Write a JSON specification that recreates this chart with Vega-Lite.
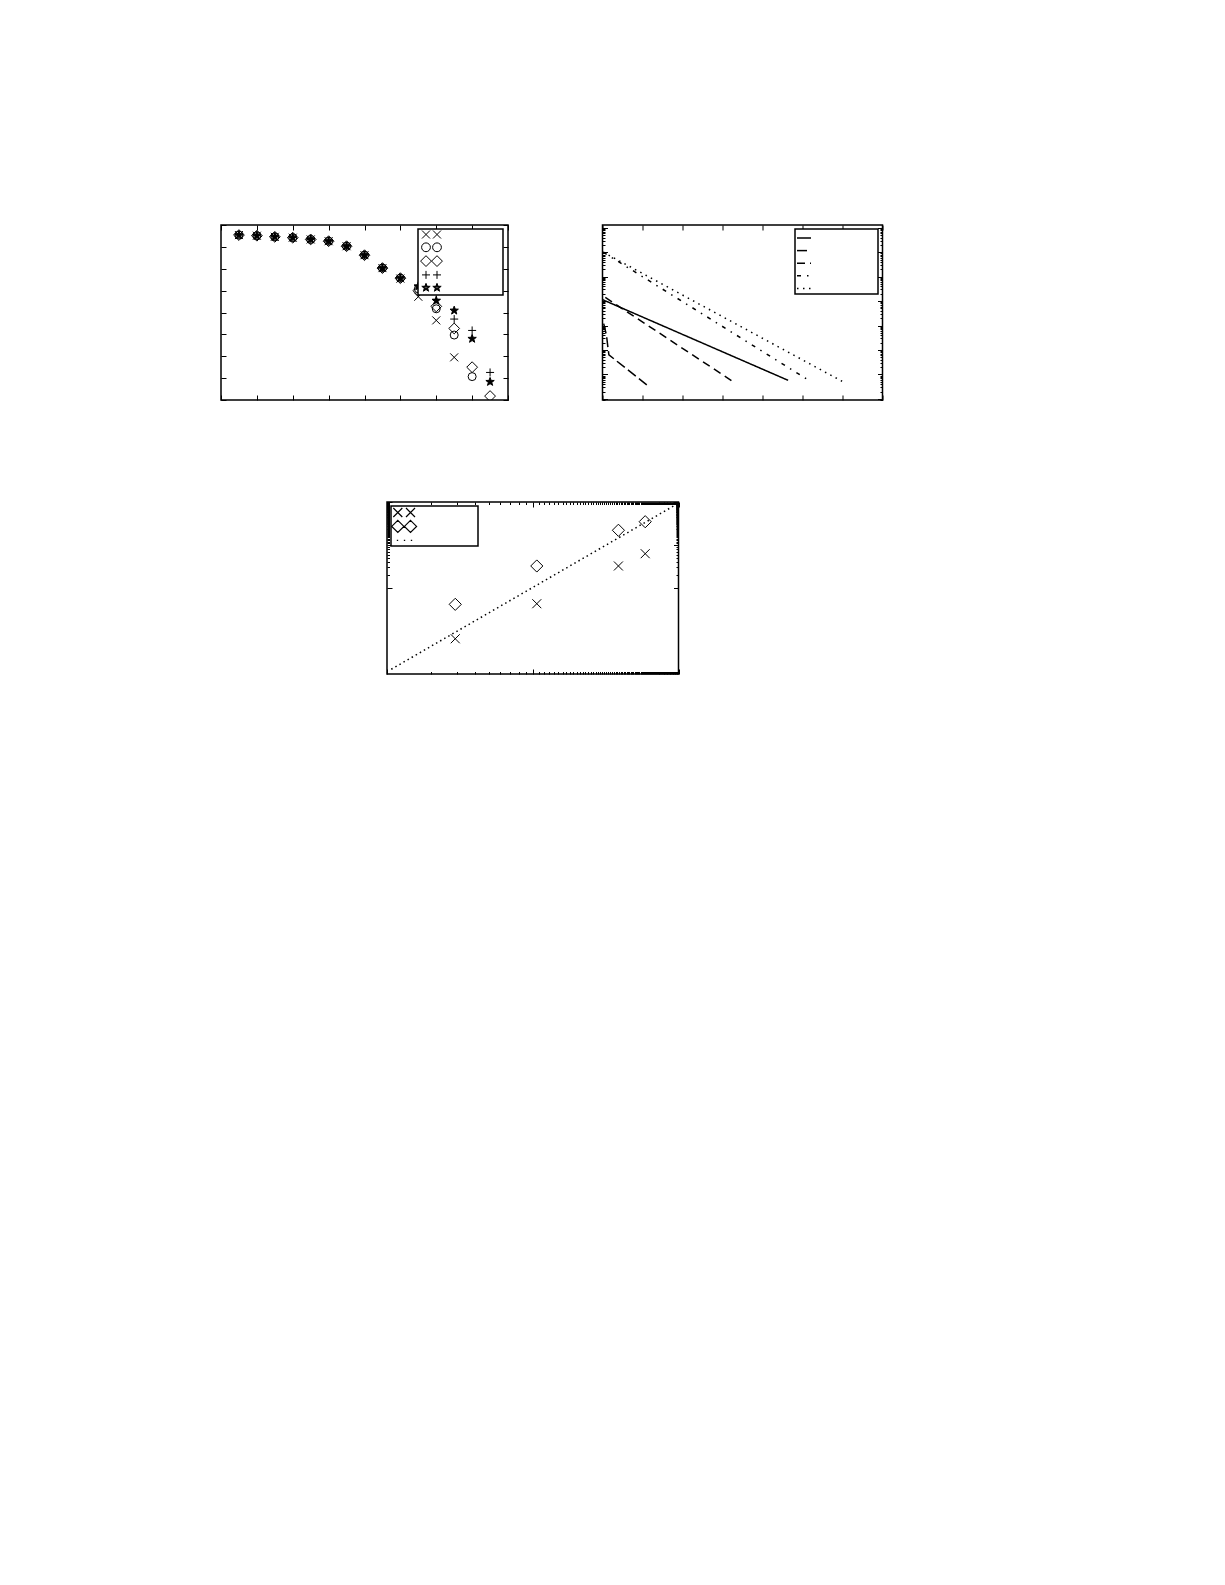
{
  "$schema": "https://vega.github.io/schema/vega-lite/v6.json",
  "background": "white",
  "padding": {"left": 219, "top": 223, "right": 5, "bottom": 5},
  "config": {
    "view": {"stroke": "black", "strokeWidth": 1.5},
    "axis": {"domain": false, "labels": false, "grid": false, "tickColor": "black", "tickWidth": 1},
    "legend": {"strokeColor": "black", "strokeWidth": 1.5, "fillColor": "white", "labelFontSize": 8, "labelColor": "black"}
  },
  "spacing": 97,
  "vconcat": [
    {
      "spacing": 88.5,
      "hconcat": [
        {
          "width": 287,
          "height": 175,
          "data": {"values": [
            {"s":"a","x":0.5,"y":7.54},{"s":"a","x":1,"y":7.51},{"s":"a","x":1.5,"y":7.46},{"s":"a","x":2,"y":7.42},{"s":"a","x":2.5,"y":7.34},{"s":"a","x":3,"y":7.26},{"s":"a","x":3.5,"y":7.03},{"s":"a","x":4,"y":6.62},{"s":"a","x":4.5,"y":6.03},{"s":"a","x":5,"y":5.55},{"s":"a","x":5.5,"y":4.72},{"s":"a","x":6,"y":3.64},{"s":"a","x":6.5,"y":1.95},
            {"s":"b","x":0.5,"y":7.54},{"s":"b","x":1,"y":7.51},{"s":"b","x":1.5,"y":7.46},{"s":"b","x":2,"y":7.42},{"s":"b","x":2.5,"y":7.34},{"s":"b","x":3,"y":7.26},{"s":"b","x":3.5,"y":7.03},{"s":"b","x":4,"y":6.62},{"s":"b","x":4.5,"y":6.03},{"s":"b","x":5,"y":5.57},{"s":"b","x":5.5,"y":5.08},{"s":"b","x":6,"y":4.17},{"s":"b","x":6.5,"y":2.97},{"s":"b","x":7,"y":1.07},
            {"s":"c","x":0.5,"y":7.54},{"s":"c","x":1,"y":7.51},{"s":"c","x":1.5,"y":7.46},{"s":"c","x":2,"y":7.42},{"s":"c","x":2.5,"y":7.34},{"s":"c","x":3,"y":7.26},{"s":"c","x":3.5,"y":7.03},{"s":"c","x":4,"y":6.62},{"s":"c","x":4.5,"y":6.03},{"s":"c","x":5,"y":5.57},{"s":"c","x":5.5,"y":5.0},{"s":"c","x":6,"y":4.28},{"s":"c","x":6.5,"y":3.27},{"s":"c","x":7,"y":1.5},{"s":"c","x":7.5,"y":0.18},
            {"s":"d","x":0.5,"y":7.54},{"s":"d","x":1,"y":7.51},{"s":"d","x":1.5,"y":7.46},{"s":"d","x":2,"y":7.42},{"s":"d","x":2.5,"y":7.34},{"s":"d","x":3,"y":7.26},{"s":"d","x":3.5,"y":7.03},{"s":"d","x":4,"y":6.62},{"s":"d","x":4.5,"y":6.03},{"s":"d","x":5,"y":5.57},{"s":"d","x":5.5,"y":5.23},{"s":"d","x":6,"y":4.6},{"s":"d","x":6.5,"y":3.7},{"s":"d","x":7,"y":3.18},{"s":"d","x":7.5,"y":1.26},
            {"s":"e","x":0.5,"y":7.54},{"s":"e","x":1,"y":7.51},{"s":"e","x":1.5,"y":7.46},{"s":"e","x":2,"y":7.42},{"s":"e","x":2.5,"y":7.34},{"s":"e","x":3,"y":7.26},{"s":"e","x":3.5,"y":7.03},{"s":"e","x":4,"y":6.62},{"s":"e","x":4.5,"y":6.03},{"s":"e","x":5,"y":5.57},{"s":"e","x":5.5,"y":5.2},{"s":"e","x":6,"y":4.54},{"s":"e","x":6.5,"y":4.09},{"s":"e","x":7,"y":2.8},{"s":"e","x":7.5,"y":0.83}
          ]},
          "layer": [
            {
              "mark": {"type": "point", "filled": false, "stroke": "black", "strokeWidth": 1, "size": 64, "opacity": 1, "clip": true},
              "encoding": {
                "x": {"field": "x", "type": "quantitative", "title": null, "scale": {"domain": [0, 8], "nice": false}, "axis": {"orient": "bottom", "tickCount": 8, "tickSize": -5}},
                "y": {"field": "y", "type": "quantitative", "title": null, "scale": {"domain": [0, 8], "nice": false}, "axis": {"orient": "left", "tickCount": 8, "tickSize": -5}},
                "shape": {"field": "s", "type": "nominal", "legend": null, "scale": {"domain": ["a","b","c","d","e"], "range": [
                  "M-1,-1L1,1M-1,1L1,-1",
                  "circle",
                  "M0,-1.35L1.35,0L0,1.35L-1.35,0Z",
                  "M-1,0L1,0M0,-1L0,1",
                  "M0,-1.1L0.265,-0.364L1.046,-0.34L0.428,0.139L0.647,0.89L0,0.45L-0.647,0.89L-0.428,0.139L-1.046,-0.34L-0.265,-0.364Z"
                ]}},
                "fill": {"field": "s", "type": "nominal", "legend": null, "scale": {"domain": ["a","b","c","d","e"], "range": ["transparent","transparent","transparent","transparent","black"]}}
              }
            },
            {
              "mark": {"type": "point", "filled": false, "stroke": "black", "strokeWidth": 1, "size": 64, "opacity": 0},
              "encoding": {
                "x": {"field": "x", "type": "quantitative", "title": null, "axis": {"orient": "top", "tickCount": 8, "tickSize": -5}},
                "y": {"field": "y", "type": "quantitative", "title": null, "axis": {"orient": "right", "tickCount": 8, "tickSize": -5}},
                "shape": {"field": "s", "type": "nominal", "scale": {"domain": ["a","b","c","d","e"], "range": [
                  "M-0.375,-1L1.625,1M-0.375,1L1.625,-1M2.375,-1L4.375,1M2.375,1L4.375,-1",
                  "M1.725,0A1.1,1.1 0 1,1 -0.475,0A1.1,1.1 0 1,1 1.725,0ZM4.475,0A1.1,1.1 0 1,1 2.275,0A1.1,1.1 0 1,1 4.475,0Z",
                  "M0.625,-1.35L1.975,0L0.625,1.35L-0.725,0ZM3.375,-1.35L4.725,0L3.375,1.35L2.025,0Z",
                  "M-0.375,0L1.625,0M0.625,-1L0.625,1M2.375,0L4.375,0M3.375,-1L3.375,1",
                  "M0.625,-1.1L0.89,-0.364L1.671,-0.34L1.053,0.139L1.272,0.89L0.625,0.45L-0.022,0.89L0.197,0.139L-0.421,-0.34L0.36,-0.364ZM0.625,-0.77L0.811,-0.255L1.357,-0.238L0.925,0.097L1.078,0.623L0.625,0.315L0.172,0.623L0.325,0.097L-0.107,-0.238L0.439,-0.255ZM0.625,-0.44L0.731,-0.146L1.043,-0.136L0.796,0.056L0.884,0.356L0.625,0.18L0.366,0.356L0.454,0.056L0.207,-0.136L0.519,-0.146ZM0.525,0L0.725,0M3.375,-1.1L3.64,-0.364L4.421,-0.34L3.803,0.139L4.022,0.89L3.375,0.45L2.728,0.89L2.947,0.139L2.329,-0.34L3.11,-0.364ZM3.375,-0.77L3.561,-0.255L4.107,-0.238L3.675,0.097L3.828,0.623L3.375,0.315L2.922,0.623L3.075,0.097L2.643,-0.238L3.189,-0.255ZM3.375,-0.44L3.481,-0.146L3.793,-0.136L3.546,0.056L3.634,0.356L3.375,0.18L3.116,0.356L3.204,0.056L2.957,-0.136L3.269,-0.146ZM3.275,0L3.475,0"
                ]}, "legend": {"title": null, "orient": "none", "legendX": 197, "legendY": 4, "padding": 1, "rowPadding": -0.2, "labelOffset": 67.5, "symbolSize": 64, "symbolStrokeWidth": 1, "symbolStrokeColor": "black", "symbolFillColor": "transparent", "labelExpr": "'⠀'"}}
              }
            }
          ],
          "resolve": {"scale": {"shape": "independent", "fill": "independent"}, "axis": {"x": "independent", "y": "independent"}}
        },
        {
          "width": 280,
          "height": 175,
          "data": {"values": [
            {"s":"s1","x":0,"y":0.00115},{"s":"s1","x":4.64,"y":5.75e-7},
            {"s":"s2","x":0.03,"y":0.00012},{"s":"s2","x":0.1,"y":3.98e-5},{"s":"s2","x":0.13,"y":1.51e-5},{"s":"s2","x":0.16,"y":6.31e-6},{"s":"s2","x":1.15,"y":3.31e-7},
            {"s":"s3","x":0.07,"y":0.00141},{"s":"s3","x":3.28,"y":4.9e-7},
            {"s":"s4","x":0.02,"y":0.1},{"s":"s4","x":5.16,"y":5.75e-7},
            {"s":"s5","x":0.02,"y":0.1},{"s":"s5","x":5.99,"y":5.25e-7}
          ]},
          "layer": [
            {
              "mark": {"type": "line", "stroke": "black", "strokeWidth": 1.5, "clip": true},
              "encoding": {
                "x": {"field": "x", "type": "quantitative", "title": null, "scale": {"domain": [0, 7], "nice": false}, "axis": {"orient": "bottom", "tickCount": 7, "tickSize": -5}},
                "y": {"field": "y", "type": "quantitative", "title": null, "scale": {"type": "log", "domain": [9e-8, 1.3], "nice": false}, "axis": {"orient": "left", "tickCount": 100, "tickSize": {"condition": {"test": "abs(log(datum.value)/LN10 - round(log(datum.value)/LN10)) < 0.001", "value": -5}, "value": -2.5}}},
                "strokeDash": {"field": "s", "type": "nominal", "scale": {"domain": ["s1","s2","s3","s4","s5"], "range": [[1,0],[10,4],[8,5],[4,6,1.5,6],[1.5,4.5]]}, "legend": {"title": null, "orient": "none", "legendX": 574, "legendY": 4, "padding": 1, "rowPadding": 0.6, "labelOffset": 59, "symbolSize": 196, "symbolStrokeWidth": 1.5, "symbolStrokeColor": "black", "labelExpr": "'⠀'"}}
              }
            },
            {
              "mark": {"type": "point", "opacity": 0},
              "encoding": {
                "x": {"field": "x", "type": "quantitative", "title": null, "axis": {"orient": "top", "tickCount": 7, "tickSize": -5}},
                "y": {"field": "y", "type": "quantitative", "title": null, "axis": {"orient": "right", "tickCount": 100, "tickSize": {"condition": {"test": "abs(log(datum.value)/LN10 - round(log(datum.value)/LN10)) < 0.001", "value": -5}, "value": -2.5}}}
              }
            }
          ],
          "resolve": {"axis": {"x": "independent", "y": "independent"}}
        }
      ]
    },
    {
      "spacing": 154,
      "hconcat": [
        {
          "width": 10,
          "height": 172,
          "view": {"stroke": null},
          "data": {"values": [{"z": 1}]},
          "mark": {"type": "point", "opacity": 0},
          "encoding": {}
        },
        {
          "width": 291.5,
          "height": 172,
          "data": {"values": [
            {"s":"X","x":2.94,"y":0.00066},{"s":"X","x":10.66,"y":0.00431},{"s":"X","x":38.7,"y":0.0325},{"s":"X","x":59.1,"y":0.0628},
            {"s":"D","x":2.94,"y":0.00417},{"s":"D","x":10.66,"y":0.0325},{"s":"D","x":38.7,"y":0.22},{"s":"D","x":59.1,"y":0.348},
            {"s":"fit","x":1.07,"y":0.000129},{"s":"fit","x":92.5,"y":0.807}
          ]},
          "layer": [
            {
              "transform": [{"filter": "datum.s !== 'fit'"}],
              "mark": {"type": "point", "filled": false, "stroke": "black", "strokeWidth": 1, "size": 81, "opacity": 1, "clip": true},
              "encoding": {
                "x": {"field": "x", "type": "quantitative", "title": null, "scale": {"type": "log", "domain": [1, 100], "nice": false}, "axis": {"orient": "bottom", "tickCount": 100, "tickSize": {"condition": {"test": "abs(log(datum.value)/LN10 - round(log(datum.value)/LN10)) < 0.001", "value": -5}, "value": -2.5}}},
                "y": {"field": "y", "type": "quantitative", "title": null, "scale": {"type": "log", "domain": [0.0001, 1], "nice": false}, "axis": {"orient": "left", "tickCount": 100, "tickSize": {"condition": {"test": "abs(log(datum.value)/LN10 - round(log(datum.value)/LN10)) < 0.001", "value": -5}, "value": -2.5}}},
                "shape": {"field": "s", "type": "nominal", "legend": null, "scale": {"domain": ["X","D"], "range": ["M-1,-1L1,1M-1,1L1,-1", "M0,-1.35L1.35,0L0,1.35L-1.35,0Z"]}}
              }
            },
            {
              "transform": [{"filter": "datum.s === 'fit'"}],
              "mark": {"type": "line", "stroke": "black", "strokeWidth": 1.5, "strokeDash": [1.5, 3.2], "clip": true},
              "encoding": {
                "x": {"field": "x", "type": "quantitative", "title": null, "axis": null},
                "y": {"field": "y", "type": "quantitative", "title": null, "axis": null}
              }
            },
            {
              "mark": {"type": "point", "filled": false, "stroke": "black", "strokeWidth": 1, "size": 81, "opacity": 0},
              "encoding": {
                "x": {"field": "x", "type": "quantitative", "title": null, "axis": {"orient": "top", "tickCount": 100, "tickSize": {"condition": {"test": "abs(log(datum.value)/LN10 - round(log(datum.value)/LN10)) < 0.001", "value": -5}, "value": -2.5}}},
                "y": {"field": "y", "type": "quantitative", "title": null, "axis": {"orient": "right", "tickCount": 100, "tickSize": {"condition": {"test": "abs(log(datum.value)/LN10 - round(log(datum.value)/LN10)) < 0.001", "value": -5}, "value": -2.5}}},
                "shape": {"field": "s", "type": "nominal", "scale": {"domain": ["X","D","fit"], "range": [
                  "M-0.93,-1L1.07,1M-0.93,1L1.07,-1M1.89,-1L3.89,1M1.89,1L3.89,-1",
                  "M0.07,-1.35L1.42,0L0.07,1.35L-1.28,0ZM2.89,-1.35L4.24,0L2.89,1.35L1.54,0Z",
                  "M-0.15,0L0.15,0M1.41,0L1.71,0M2.96,0L3.26,0"
                ]}, "legend": {"title": null, "orient": "none", "legendX": 4, "legendY": 4, "padding": 1, "rowPadding": -2.1, "labelOffset": 67.5, "symbolSize": 81, "symbolStrokeWidth": 1.2, "symbolStrokeColor": "black", "symbolFillColor": "transparent", "labelExpr": "'⠀'"}}
              }
            }
          ],
          "resolve": {"scale": {"shape": "independent"}, "axis": {"x": "independent", "y": "independent"}}
        }
      ]
    }
  ]
}
